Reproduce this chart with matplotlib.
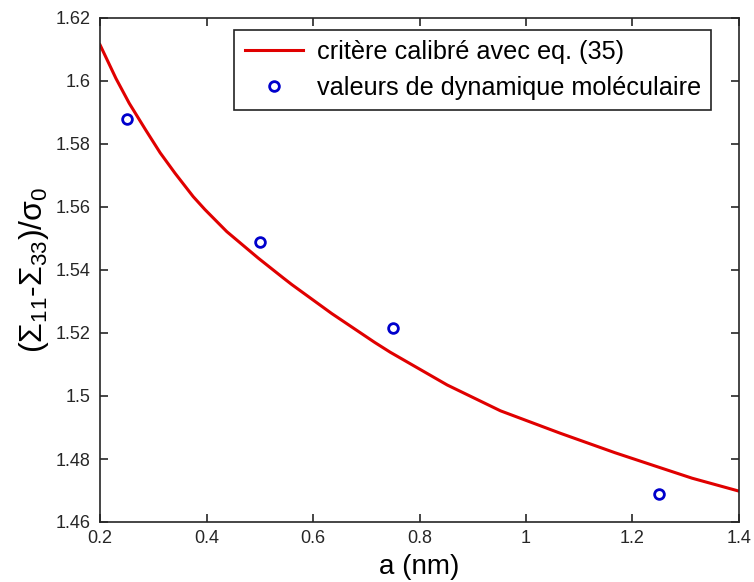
import numpy as np
import matplotlib
matplotlib.use("Agg")
import matplotlib.pyplot as plt

plt.rcParams['font.family'] = ['Liberation Sans', 'DejaVu Sans']
plt.rcParams['mathtext.fontset'] = 'custom'
plt.rcParams['mathtext.rm'] = 'Liberation Sans'
plt.rcParams['mathtext.it'] = 'Liberation Sans'

# calibrated criterion curve
crit_x = [0.2, 0.23, 0.255, 0.286, 0.313, 0.341, 0.375, 0.397, 0.438, 0.497, 0.544,
          0.56, 0.635, 0.716, 0.745, 0.852, 0.952, 1.064, 1.167, 1.242, 1.312, 1.4]
crit_y = [1.6115, 1.6008, 1.5929, 1.5844, 1.5772, 1.5707, 1.5633, 1.5592, 1.5522, 1.5438, 1.5375,
          1.5354, 1.5262, 1.5170, 1.5139, 1.5035, 1.4953, 1.4882, 1.4820, 1.4778, 1.4739, 1.4698]

# molecular dynamics values
md_x = [0.25, 0.5, 0.75, 1.25]
md_y = [1.5878, 1.549, 1.5215, 1.4688]

xticks = [0.2, 0.4, 0.6, 0.8, 1, 1.2, 1.4]
xtick_labels = ['0.2', '0.4', '0.6', '0.8', '1', '1.2', '1.4']
yticks = [1.46, 1.48, 1.5, 1.52, 1.54, 1.56, 1.58, 1.6, 1.62]
ytick_labels = ['1.46', '1.48', '1.5', '1.52', '1.54', '1.56', '1.58', '1.6', '1.62']

fig = plt.figure(figsize=(7.54, 5.82), dpi=100)
ax = fig.add_axes([100/754, 60/582, 639/754, 504/582])

ax.plot(crit_x, crit_y, color='#e00000', lw=2.2, label='critère calibré avec eq. (35)')
ax.plot(md_x, md_y, ls='none', marker='o', ms=7, mfc='none', mec='#0000cc', mew=2,
        label='valeurs de dynamique moléculaire')

ax.set_xlim(0.2, 1.4)
ax.set_ylim(1.46, 1.62)
ax.set_xticks(xticks)
ax.set_xticklabels(xtick_labels)
ax.set_yticks(yticks)
ax.set_yticklabels(ytick_labels)
ax.tick_params(direction='in', length=6, width=1.2, top=True, right=True,
               labelsize=13, colors='#262626')
ax.tick_params(axis='x', pad=6)
ax.tick_params(axis='y', pad=7)
for s in ax.spines.values():
    s.set_color('#262626')
    s.set_linewidth(1.2)

ax.set_xlabel('a (nm)', fontsize=20, labelpad=5)
ax.set_ylabel(r'$(\mathrm{\Sigma_{11}}$-$\mathrm{\Sigma_{33})/\sigma_0}$', fontsize=23, labelpad=3)

leg = ax.legend(loc='upper right', bbox_to_anchor=(0.956, 0.976), borderaxespad=0,
                fontsize=18.2, frameon=True, fancybox=False, framealpha=1,
                edgecolor='#222222', borderpad=0.4, handlelength=2.3, handletextpad=0.55,
                labelspacing=0.45)
leg.get_frame().set_linewidth(1.2)

fig.savefig('out.png', dpi=100)
